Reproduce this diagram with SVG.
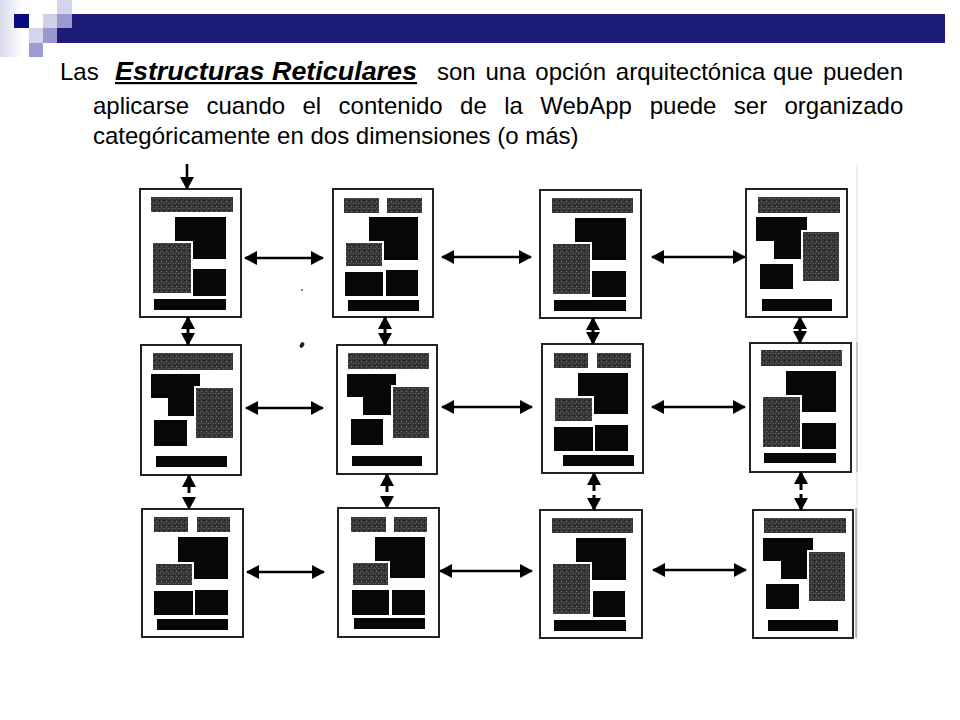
<svg xmlns="http://www.w3.org/2000/svg" width="960" height="720" viewBox="0 0 960 720">
<style>
.t{font-family:"Liberation Sans",Arial,sans-serif;font-size:24px;fill:#000}
.b{font-weight:bold;font-style:italic;font-size:26px}
.fr{fill:#fff;stroke:#222;stroke-width:2}
.g{fill:url(#st);stroke:#fff;stroke-width:2}
.k{fill:#070707}
.c{stroke:#000;stroke-width:2.6;fill:none;marker-start:url(#ah);marker-end:url(#ah)}
.v{stroke-width:3}
.d{stroke-dasharray:7 4}
</style>
<defs>
<linearGradient id="lg" x1="0" y1="0" x2="1" y2="0">
<stop offset="0" stop-color="#d9d9ee"/><stop offset="1" stop-color="#ffffff"/>
</linearGradient>
<pattern id="st" width="5" height="5" patternUnits="userSpaceOnUse">
<rect width="5" height="5" fill="#363636"/>
<rect x="1" y="1" width="1" height="1" fill="#777"/>
<rect x="3" y="3" width="1" height="1" fill="#666"/>
<rect x="4" y="0" width="1" height="1" fill="#1a1a1a"/>
<rect x="0" y="3" width="1" height="1" fill="#555"/>
</pattern>
<marker id="ah" viewBox="0 0 13 14" refX="12" refY="7" markerWidth="13" markerHeight="14" markerUnits="userSpaceOnUse" orient="auto-start-reverse">
<path d="M0,0 L13,7 L0,14 Z" fill="#000"/>
</marker>
<marker id="ah1" viewBox="0 0 13 14" refX="12" refY="7" markerWidth="13" markerHeight="14" markerUnits="userSpaceOnUse" orient="auto">
<path d="M0,0 L13,7 L0,14 Z" fill="#000"/>
</marker>
</defs>
<rect width="960" height="720" fill="#fff"/>
<g id="logo">
<rect x="0" y="0" width="22" height="57" fill="url(#lg)"/>
<rect x="57" y="14" width="888" height="29" fill="#1c1c78"/>
<rect x="14" y="14" width="15" height="14" fill="#0a0a80"/>
<rect x="29" y="28" width="14" height="15" fill="#d4d4ec"/>
<rect x="29" y="43" width="14" height="14" fill="#9c9cd0"/>
<rect x="43" y="14" width="14" height="14" fill="#d0d0ea"/>
<rect x="43" y="28" width="14" height="15" fill="#9898cc"/>
<rect x="57" y="0" width="15" height="14" fill="#d4d4ec"/>
<rect x="57" y="14" width="15" height="14" fill="#9a9ad0"/>
</g>
<g id="title">
<text class="t" x="60" y="80">Las</text>
<text class="t b" x="115" y="80" textLength="302" lengthAdjust="spacingAndGlyphs">Estructuras Reticulares</text>
<rect x="115" y="82" width="302" height="2.2" fill="#000"/>
<text class="t" y="80"><tspan x="437">son</tspan><tspan x="485.5">una</tspan><tspan x="535.3">opción</tspan><tspan x="615.8">arquitectónica</tspan><tspan x="773.1">que</tspan><tspan x="822.9">pueden</tspan></text>
<text class="t" y="114"><tspan x="93">aplicarse</tspan><tspan x="206.4">cuando</tspan><tspan x="302.5">el</tspan><tspan x="338.6">contenido</tspan><tspan x="460.1">de</tspan><tspan x="504.2">la</tspan><tspan x="540.3">WebApp</tspan><tspan x="649.7">puede</tspan><tspan x="733.8">ser</tspan><tspan x="784.5">organizado</tspan></text>
<text class="t" x="93" y="144">categóricamente en dos dimensiones (o más)</text>
</g>
<g id="edge" stroke-width="1">
<line x1="857" y1="165" x2="857" y2="640" stroke="#e2e2e2"/>
<line x1="857" y1="342" x2="857" y2="472" stroke="#999"/>
<line x1="856" y1="508" x2="856" y2="638" stroke="#777"/>
<ellipse cx="302" cy="345" rx="2" ry="3" fill="#222" transform="rotate(30 302 345)"/>
<circle cx="302" cy="290" r="1" fill="#555"/>
</g>
<g id="p1"><rect class="fr" x="140" y="189" width="101" height="128"/><rect class="g" x="150" y="196" width="84" height="17"/><rect class="k" x="175" y="217" width="51" height="42"/><rect class="g" x="152" y="242" width="40" height="52"/><rect class="k" x="193" y="269" width="33" height="27"/><rect class="k" x="154" y="299" width="72" height="11"/></g>
<g id="p2"><rect class="fr" x="333" y="189" width="100" height="128"/><rect class="g" x="343" y="197" width="37" height="17"/><rect class="g" x="386" y="197" width="37" height="17"/><rect class="k" x="369" y="217" width="49" height="43"/><rect class="g" x="345" y="242" width="38" height="25"/><rect class="k" x="345" y="272" width="38" height="24"/><rect class="k" x="386" y="270" width="32" height="26"/><rect class="k" x="348" y="300" width="71" height="11"/></g>
<g id="p3"><rect class="fr" x="540" y="190" width="101" height="128"/><rect class="g" x="551" y="197" width="83" height="17"/><rect class="k" x="575" y="218" width="51" height="42"/><rect class="g" x="552" y="243" width="39" height="52"/><rect class="k" x="592" y="271" width="34" height="26"/><rect class="k" x="554" y="300" width="72" height="11"/></g>
<g id="p4"><rect class="fr" x="746" y="189" width="101" height="128"/><rect class="g" x="757" y="196" width="84" height="18"/><path class="k" d="M756,217 H807 V259 H774 V241 H756 Z"/><rect class="g" x="802" y="231" width="38" height="51"/><rect class="k" x="760" y="264" width="33" height="25"/><rect class="k" x="762" y="299" width="70" height="12"/></g>
<g id="p5"><rect class="fr" x="141" y="345" width="100" height="130"/><rect class="g" x="152" y="352" width="82" height="19"/><path class="k" d="M151,374 H200 V416 H168 V398 H151 Z"/><rect class="g" x="195" y="387" width="39" height="52"/><rect class="k" x="154" y="420" width="33" height="26"/><rect class="k" x="156" y="456" width="71" height="11"/></g>
<g id="p6"><rect class="fr" x="337" y="345" width="100" height="129"/><rect class="g" x="347" y="352" width="83" height="18"/><path class="k" d="M347,374 H396 V415 H363 V397 H347 Z"/><rect class="g" x="392" y="386" width="38" height="53"/><rect class="k" x="351" y="419" width="32" height="26"/><rect class="k" x="352" y="456" width="70" height="10"/></g>
<g id="p7"><rect class="fr" x="542" y="344" width="101" height="129"/><rect class="g" x="553" y="352" width="36" height="17"/><rect class="g" x="596" y="352" width="36" height="17"/><rect class="k" x="578" y="373" width="50" height="41"/><rect class="g" x="554" y="397" width="39" height="25"/><rect class="k" x="554" y="427" width="39" height="24"/><rect class="k" x="595" y="425" width="33" height="26"/><rect class="k" x="563" y="455" width="71" height="11"/></g>
<g id="p8"><rect class="fr" x="750" y="343" width="101" height="129"/><rect class="g" x="760" y="349" width="83" height="18"/><rect class="k" x="786" y="371" width="50" height="41"/><rect class="g" x="762" y="396" width="39" height="52"/><rect class="k" x="802" y="423" width="34" height="26"/><rect class="k" x="764" y="453" width="72" height="10"/></g>
<g id="p9"><rect class="fr" x="142" y="509" width="101" height="128"/><rect class="g" x="153" y="516" width="36" height="17"/><rect class="g" x="196" y="516" width="35" height="17"/><rect class="k" x="178" y="537" width="50" height="42"/><rect class="g" x="155" y="563" width="38" height="23"/><rect class="k" x="154" y="591" width="39" height="24"/><rect class="k" x="195" y="590" width="33" height="25"/><rect class="k" x="157" y="619" width="71" height="11"/></g>
<g id="p10"><rect class="fr" x="338" y="508" width="101" height="129"/><rect class="g" x="350" y="516" width="37" height="17"/><rect class="g" x="393" y="516" width="35" height="17"/><rect class="k" x="375" y="537" width="50" height="41"/><rect class="g" x="352" y="562" width="37" height="24"/><rect class="k" x="352" y="590" width="37" height="25"/><rect class="k" x="392" y="590" width="33" height="25"/><rect class="k" x="354" y="618" width="71" height="11"/></g>
<g id="p11"><rect class="fr" x="540" y="510" width="102" height="128"/><rect class="g" x="551" y="517" width="83" height="17"/><rect class="k" x="576" y="538" width="50" height="42"/><rect class="g" x="552" y="563" width="39" height="52"/><rect class="k" x="593" y="591" width="32" height="26"/><rect class="k" x="554" y="620" width="72" height="11"/></g>
<g id="p12"><rect class="fr" x="753" y="510" width="100" height="128"/><rect class="g" x="763" y="517" width="84" height="17"/><path class="k" d="M763,538 H813 V579 H781 V561 H763 Z"/><rect class="g" x="808" y="551" width="38" height="51"/><rect class="k" x="766" y="584" width="33" height="25"/><rect class="k" x="768" y="620" width="70" height="11"/></g>
<g id="connectors">
<line x1="187" y1="164" x2="187" y2="189" stroke="#000" stroke-width="2.6" marker-end="url(#ah1)"/>
<line class="c" x1="245" y1="258" x2="323" y2="258"/>
<line class="c" x1="442" y1="257" x2="531" y2="257"/>
<line class="c" x1="652" y1="257" x2="745" y2="257"/>
<line class="c" x1="246" y1="408" x2="323" y2="408"/>
<line class="c" x1="442" y1="407" x2="532" y2="407"/>
<line class="c" x1="652" y1="407" x2="745" y2="407"/>
<line class="c" x1="247" y1="572" x2="324" y2="572"/>
<line class="c" x1="440" y1="571" x2="532" y2="571"/>
<line class="c" x1="653" y1="570" x2="746" y2="570"/>
<line class="c v" x1="188" y1="317" x2="188" y2="345"/>
<line class="c v" x1="385" y1="317" x2="385" y2="345"/>
<line class="c v" x1="593" y1="318" x2="593" y2="344"/>
<line class="c v" x1="800" y1="317" x2="800" y2="343"/>
<line class="c v d" x1="189" y1="475" x2="189" y2="509"/>
<line class="c v d" x1="387" y1="474" x2="387" y2="508"/>
<line class="c v d" x1="594" y1="473" x2="594" y2="510"/>
<line class="c v d" x1="801" y1="472" x2="801" y2="510"/>
</g>
</svg>
